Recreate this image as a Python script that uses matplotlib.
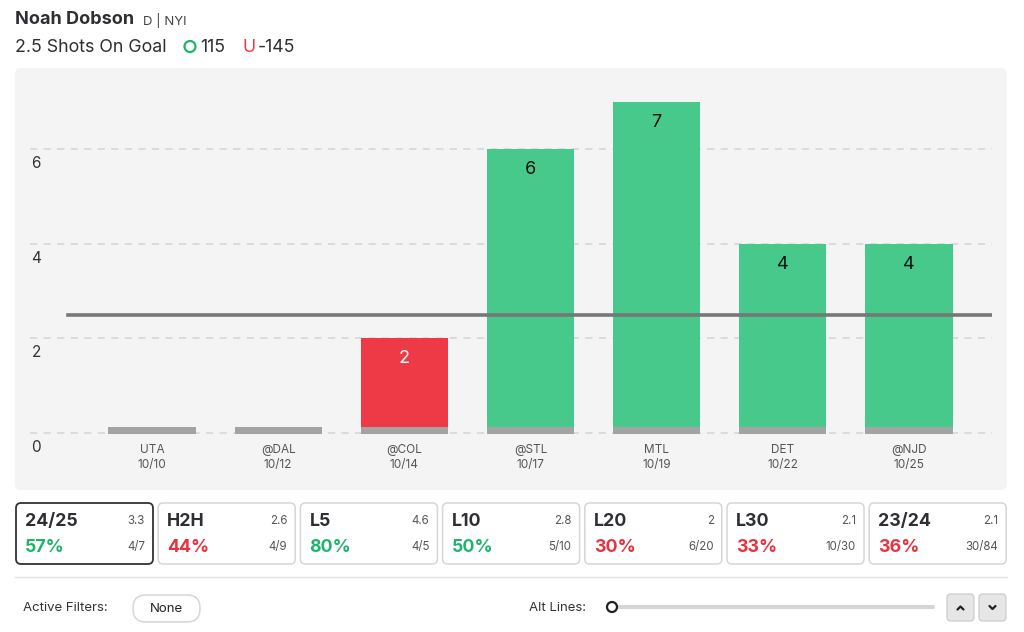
import matplotlib
matplotlib.use("Agg")
import matplotlib.pyplot as plt
from matplotlib.patches import FancyBboxPatch, Circle
from matplotlib.transforms import ScaledTranslation

plt.rcParams['font.family'] = ['Inter', 'DejaVu Sans']

# ---- data ----
opponents = ["UTA", "@DAL", "@COL", "@STL", "MTL", "DET", "@NJD"]
dates = ["10/10", "10/12", "10/14", "10/17", "10/19", "10/22", "10/25"]
shots = [0, 0, 2, 6, 7, 4, 4]
line_value = 2.5
y_ticks = [0, 2, 4, 6]

card_labels = ["24/25", "H2H", "L5", "L10", "L20", "L30", "23/24"]
card_avgs = ["3.3", "2.6", "4.6", "2.8", "2", "2.1", "2.1"]
card_pcts = ["57%", "44%", "80%", "50%", "30%", "33%", "36%"]
card_fracs = ["4/7", "4/9", "4/5", "5/10", "6/20", "10/30", "30/84"]

GREEN = "#46c98b"
RED = "#ee3a47"
PCT_GREEN = "#1fb46d"
PCT_RED = "#e8323f"
DARK = "#2f2f33"

W, H = 1024, 632
fig = plt.figure(figsize=(W / 100, H / 100), dpi=100)
fig.patch.set_facecolor("white")

# overlay axes in pixel coordinates
ov = fig.add_axes([0, 0, 1, 1], zorder=0)
ov.set_xlim(0, W)
ov.set_ylim(H, 0)
ov.axis("off")

# panel background
ov.add_patch(FancyBboxPatch((15, 68), 992, 422, boxstyle="round,pad=0,rounding_size=6",
                            fc="#f4f4f4", ec="none"))

# header
ov.text(15, 20, "Noah Dobson", fontsize=13, fontweight="bold", color=DARK, va="center", ha="left")
ov.text(143, 21, "D | NYI", fontsize=9.5, color="#444", va="center", ha="left")
ov.text(15, 47, "2.5 Shots On Goal", fontsize=12.8, color=DARK, va="center", ha="left")
ov.add_patch(Circle((190, 46.5), 5.5, fc="none", ec="#1fb46d", lw=1.6))
ov.text(200, 47, "115", fontsize=12.8, color=DARK, va="center", ha="left")
ov.text(243, 47, "U", fontsize=12.8, color=RED, va="center", ha="left")
ov.text(258, 47, "-145", fontsize=12.8, color=DARK, va="center", ha="left")

# chart axes
x0, x1, ytop, ybot = 30, 992, 80, 440
ax = fig.add_axes([x0 / W, (H - ybot) / H, (x1 - x0) / W, (ybot - ytop) / H], zorder=1)
ax.patch.set_alpha(0)
for s in ax.spines.values():
    s.set_visible(False)

xs = list(range(len(opponents)))
ppu_x = 126.2
ax.set_xlim(-(152 - x0) / ppu_x, 6 + (x1 - 909) / ppu_x)
ppu_y = 47.3
ax.set_ylim(-(ybot - 433) / ppu_y, (433 - ytop) / ppu_y)

for yv in y_ticks:
    ax.axhline(yv, color="#d9d9d9", lw=1.3, ls=(0, (4, 3.5)), zorder=0)

colors = [GREEN if v > line_value else RED for v in shots]
ax.bar(xs, shots, width=0.69, color=colors, zorder=2)
ax.bar(xs, [0.15] * len(xs), bottom=-0.02, width=0.69, color="#a3a3a3", zorder=3)

for x, v in zip(xs, shots):
    if v > 0:
        ax.text(x, v - 0.43, str(v), ha="center", va="center", fontsize=13,
                color="white" if v <= line_value else "#111", zorder=4)

ax.axhline(line_value, xmin=(68 - x0) / (x1 - x0), xmax=1, color="#777777", lw=2.6, zorder=3)

ax.set_xticks(xs, [f"{o}\n{d}" for o, d in zip(opponents, dates)])
ax.tick_params(axis="x", length=0, pad=3, labelsize=8.5, labelcolor="#555")
for lab in ax.get_xticklabels():
    lab.set_linespacing(1.35)

ax.set_yticks(y_ticks, [str(v) for v in y_ticks])
ax.tick_params(axis="y", length=0, pad=-1, labelsize=11, labelcolor="#333")
off = ScaledTranslation(0, -7 / 100, fig.dpi_scale_trans)
for lab in ax.get_yticklabels():
    lab.set_ha("left")
    lab.set_va("top")
    lab.set_transform(lab.get_transform() + off)

# cards
card_w, card_h, card_y = 137, 61, 503
for i, (lb, av, pc, fr) in enumerate(zip(card_labels, card_avgs, card_pcts, card_fracs)):
    cx = 16 + i * 142.2
    ec = "#333333" if i == 0 else "#d6d6d6"
    lw = 1.3 if i == 0 else 1.1
    ov.add_patch(FancyBboxPatch((cx, card_y), card_w, card_h,
                                boxstyle="round,pad=0,rounding_size=5", fc="white", ec=ec, lw=lw))
    ov.text(cx + 9, 521, lb, fontsize=12.8, fontweight="bold", color=DARK, va="center", ha="left")
    ov.text(cx + 129, 521, av, fontsize=8.3, color="#555", va="center", ha="right")
    pct_val = int(pc.rstrip("%"))
    ov.text(cx + 9, 547, pc, fontsize=12.8, fontweight="bold",
            color=PCT_GREEN if pct_val >= 50 else PCT_RED, va="center", ha="left")
    ov.text(cx + 129, 547, fr, fontsize=8.3, color="#555", va="center", ha="right")

# separator
ov.plot([15, 1007], [577, 577], color="#e3e3e3", lw=1)

# footer
ov.text(23, 608, "Active Filters:", fontsize=9.5, color="#333", va="center", ha="left")
ov.add_patch(FancyBboxPatch((133, 595), 67, 27, boxstyle="round,pad=0,rounding_size=13",
                            fc="white", ec="#d6d6d6", lw=1.1))
ov.text(166.5, 608.5, "None", fontsize=9.5, color="#222", va="center", ha="center")
ov.text(529, 608, "Alt Lines:", fontsize=9.5, color="#333", va="center", ha="left")
ov.plot([612, 933], [607, 607], color="#d6d6d6", lw=3, solid_capstyle="round")
ov.add_patch(Circle((612, 607), 5, fc="white", ec="#222", lw=1.6, zorder=5))
for bx in (947, 979):
    ov.add_patch(FancyBboxPatch((bx, 594), 27, 27, boxstyle="round,pad=0,rounding_size=4",
                                fc="#e6e6e6", ec="#d0d0d0", lw=1))
# chevrons
ov.plot([957.5, 960.5, 963.5], [609.5, 606.5, 609.5], color="#222", lw=1.6,
        solid_capstyle="round", solid_joinstyle="round", zorder=6)
ov.plot([989.5, 992.5, 995.5], [606, 609, 606], color="#222", lw=1.6,
        solid_capstyle="round", solid_joinstyle="round", zorder=6)

fig.savefig("out.png", dpi=100, facecolor="white")
